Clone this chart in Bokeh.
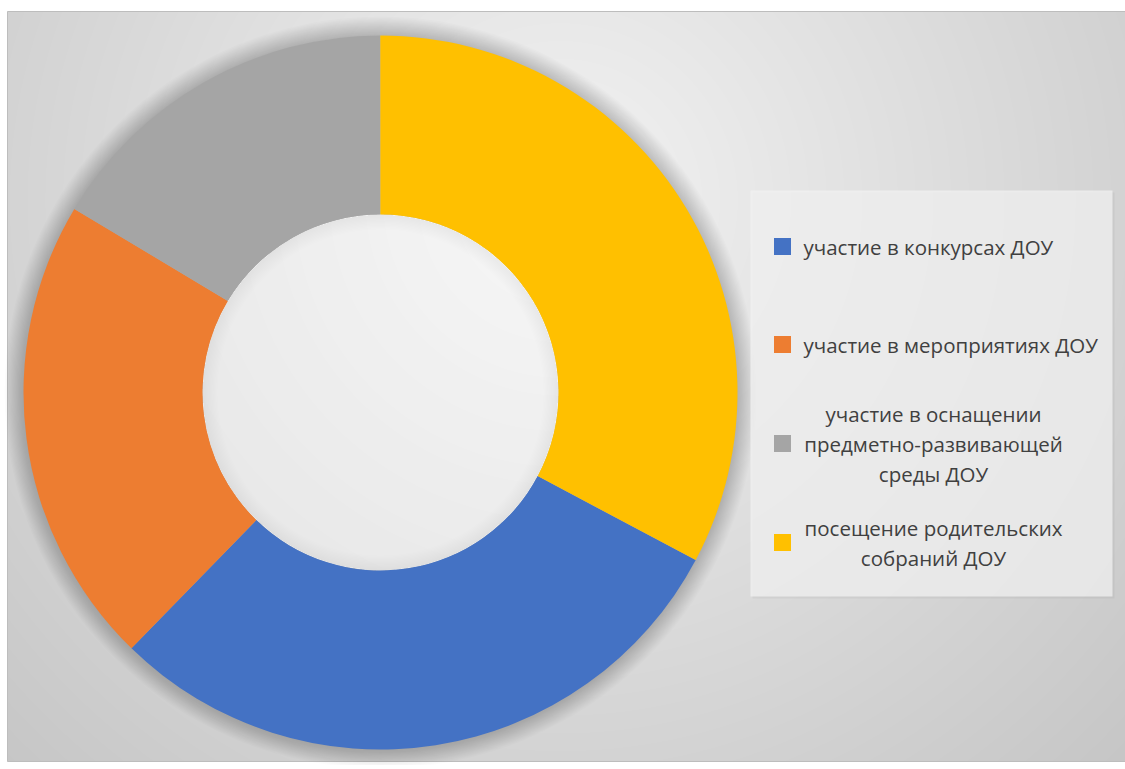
import numpy as np
from bokeh.plotting import figure
from bokeh.models import Range1d
from bokeh.core.properties import value
from bokeh.embed import file_html
from bokeh.resources import INLINE

# ---- data ----
labels = [
    "участие в конкурсах ДОУ",
    "участие в мероприятиях ДОУ",
    "участие в оснащении\nпредметно-развивающей\nсреды ДОУ",
    "посещение родительских\nсобраний ДОУ",
]
values = [18, 13, 10, 20]
colors = ["#4472C4", "#ED7D31", "#A5A5A5", "#FFC000"]

# ---- layout constants (page pixel coordinates) ----
FIRST_SLICE_ANGLE = 118.0        # degrees, clockwise from 12 o'clock
PAGE_H = 769
W, H = 1125, 765
CX, CY_PX = 380, 392
R_OUT, R_IN = 357, 178

def Y(py):
    return PAGE_H - py

p = figure(width=W, height=H, x_range=Range1d(0, W), y_range=Range1d(PAGE_H - H, PAGE_H),
           output_backend="svg", toolbar_location=None, min_border=0,
           background_fill_color="white", border_fill_color="white")
p.axis.visible = False
p.grid.visible = False
p.outline_line_color = None

# ---- background gradient ----
x0, x1, y0, y1 = 7, 1125, 11, 761
nx, ny = x1 - x0, y1 - y0
xs = np.arange(nx) + x0 + 0.5
rows = np.arange(ny)
pys = PAGE_H - (Y(y1) + rows + 0.5)
XX, YY = np.meshgrid(xs, pys)
d = np.sqrt(((XX - 560) / 640.0) ** 2 + ((YY - 200) / 640.0) ** 2)
L = np.clip(243 - 36 * d, 192, 245).astype(np.uint32)
img = (255 << 24) | (L << 16) | (L << 8) | L
p.image_rgba(image=[img.astype(np.uint32)], x=x0, y=Y(y1), dw=nx, dh=ny)
p.rect(x=(x0 + x1) / 2, y=Y((y0 + y1) / 2), width=nx, height=ny,
       fill_color=None, line_color="#bdbdbd", line_width=1)

# ---- donut shadow ----
cy = Y(CY_PX)
for k in range(16):
    p.annulus(x=CX, y=cy, inner_radius=R_IN, outer_radius=R_OUT + 1.2 * k + 1,
              fill_color="black", fill_alpha=0.010, line_color=None)
p.circle(x=CX, y=cy, radius=R_IN, fill_color="white", fill_alpha=0.4, line_color=None)
for k in range(12):
    p.annulus(x=CX, y=cy, inner_radius=max(R_IN - 1.3 * k - 1, 1), outer_radius=R_IN,
              fill_color="black", fill_alpha=0.005, line_color=None)

# ---- donut slices ----
total = float(sum(values))
start_deg = 90.0 - FIRST_SLICE_ANGLE
starts, ends = [], []
cur = start_deg
for v in values:
    starts.append(np.deg2rad(cur))
    cur -= 360.0 * v / total
    ends.append(np.deg2rad(cur))
p.annular_wedge(x=CX, y=cy, inner_radius=R_IN, outer_radius=R_OUT,
                start_angle=starts, end_angle=ends, direction="clock",
                fill_color=colors, line_color=None)

# ---- legend ----
LEG_L, LEG_T, LEG_R, LEG_B = 750, 190, 1112, 596
p.rect(x=(LEG_L + LEG_R) / 2 + 2, y=Y((LEG_T + LEG_B) / 2) - 2, width=LEG_R - LEG_L,
       height=LEG_B - LEG_T, fill_color="black", fill_alpha=0.04, line_color=None)
p.rect(x=(LEG_L + LEG_R) / 2, y=Y((LEG_T + LEG_B) / 2), width=LEG_R - LEG_L,
       height=LEG_B - LEG_T, fill_color="#f2f2f2", fill_alpha=0.75, line_color=None)

entry_centers = [246, 344, 443, 542]
marker_x = 782
text_left = 803
text_center = 933
line_step = 30
FONT = "Open Sans"
FS = "20.5px"

p.rect(x=[marker_x] * len(values), y=[Y(c) for c in entry_centers], width=17, height=17,
       fill_color=colors, line_color=None)

for lab, c in zip(labels, entry_centers):
    lines = lab.split("\n")
    n = len(lines)
    for i, ln in enumerate(lines):
        py = c + (i - (n - 1) / 2) * line_step
        if n == 1:
            p.text(x=[text_left], y=[Y(py)], text=[ln], text_align="left",
                   text_baseline="middle", text_font=value(FONT), text_font_size=FS,
                   text_color="#404040")
        else:
            p.text(x=[text_center], y=[Y(py)], text=[ln], text_align="center",
                   text_baseline="middle", text_font=value(FONT), text_font_size=FS,
                   text_color="#404040")

open("out.html", "w").write(file_html(p, INLINE))
